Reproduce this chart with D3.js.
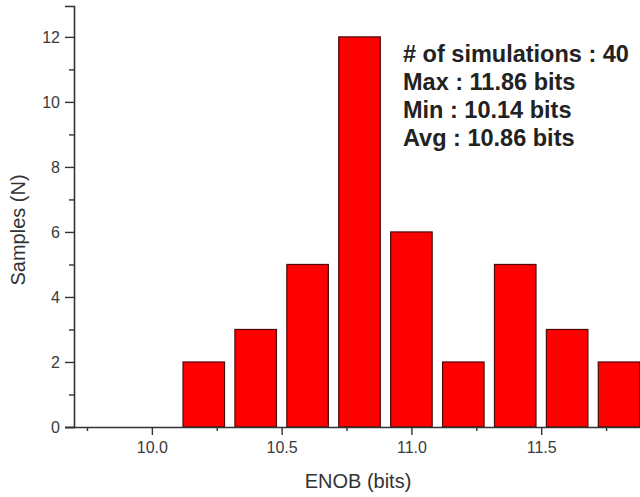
<!DOCTYPE html>
<html>
<head>
<meta charset="utf-8">
<script src="https://cdn.jsdelivr.net/npm/d3@7"></script>
<style>
  html, body { margin: 0; padding: 0; background: #fff; }
  svg { display: block; }
  text { font-family: "Liberation Sans", Arial, sans-serif; }
</style>
</head>
<body>
<svg id="chart" width="640" height="497"></svg>
<script>
// ---- Data ----
const enobBins = [10.2, 10.4, 10.6, 10.8, 11.0, 11.2, 11.4, 11.6, 11.8];
const samples  = [2, 3, 5, 12, 6, 2, 5, 3, 2];
const binWidth = 0.2;
const xMajorTicks = [10.0, 10.5, 11.0, 11.5];
const xMinorTicks = [9.75, 10.25, 10.75, 11.25, 11.75];
const yMajorTicks = [0, 2, 4, 6, 8, 10, 12];
const yMinorTicks = [1, 3, 5, 7, 9, 11];
const annotation = [
  "# of simulations : 40",
  "Max : 11.86 bits",
  "Min : 10.14 bits",
  "Avg : 10.86 bits"
];
const xTitle = "ENOB (bits)";
const yTitle = "Samples (N)";

// ---- Layout ----
const svg = d3.select("#chart");
const mLeft = 74, mBottom = 427, mTop = 6, mRight = 645;

const x = d3.scaleLinear().domain([9.7, 11.9]).range([mLeft, mRight]);
const y = d3.scaleLinear().domain([0, 12.95]).range([mBottom, mTop]);

// Bars
const data = enobBins.map((b, i) => ({ b, n: samples[i] }));
svg.append("g").selectAll("rect").data(data).join("rect")
  .attr("x", d => x(d.b - binWidth * 0.4))
  .attr("width", d => x(d.b + binWidth * 0.4) - x(d.b - binWidth * 0.4))
  .attr("y", d => y(d.n))
  .attr("height", d => y(0) - y(d.n))
  .attr("fill", "#ff0000")
  .attr("stroke", "#4a0a0a")
  .attr("stroke-width", 1.2);

// Axes
function styleAxis(g, fs) {
  g.select(".domain").attr("stroke", "#333").attr("stroke-width", 1.6);
  g.selectAll(".tick line").attr("stroke", "#333").attr("stroke-width", 1.4);
  g.selectAll(".tick text").attr("fill", "#3a3a3a").style("font-size", fs + "px")
    .style("font-family", "'Liberation Sans', Arial, sans-serif");
}

const yAxisMinor = svg.append("g").attr("transform", `translate(${mLeft},0)`)
  .call(d3.axisLeft(y).tickValues(yMinorTicks).tickSize(5).tickFormat(""));
styleAxis(yAxisMinor, 16);
const yAxis = svg.append("g").attr("transform", `translate(${mLeft},0)`)
  .call(d3.axisLeft(y).tickValues(yMajorTicks).tickSize(9).tickPadding(5).tickFormat(d3.format("d")));
styleAxis(yAxis, 16);

const xAxisMinor = svg.append("g").attr("transform", `translate(0,${mBottom})`)
  .call(d3.axisBottom(x).tickValues(xMinorTicks).tickSize(4).tickFormat(""));
styleAxis(xAxisMinor, 16);
const xAxis = svg.append("g").attr("transform", `translate(0,${mBottom})`)
  .call(d3.axisBottom(x).tickValues(xMajorTicks).tickSize(8).tickPadding(7).tickFormat(d3.format(".1f")));
styleAxis(xAxis, 16);
xAxis.select(".domain").attr("d", `M${mLeft - 9},0.5H${mRight}`);
xAxisMinor.select(".domain").remove();
yAxisMinor.select(".domain").remove();

// Titles
svg.append("text")
  .attr("x", 358).attr("y", 488)
  .attr("text-anchor", "middle")
  .attr("fill", "#333")
  .style("font-size", "20px")
  .text(xTitle);

svg.append("text")
  .attr("transform", "translate(25,230) rotate(-90)")
  .attr("text-anchor", "middle")
  .attr("fill", "#333")
  .style("font-size", "20px")
  .text(yTitle);

// Annotation
svg.append("g").selectAll("text").data(annotation).join("text")
  .attr("x", 403)
  .attr("y", (d, i) => 62 + i * 28)
  .attr("fill", "#222")
  .style("font-size", "23.5px")
  .style("font-weight", "bold")
  .text(d => d);
</script>
</body>
</html>
